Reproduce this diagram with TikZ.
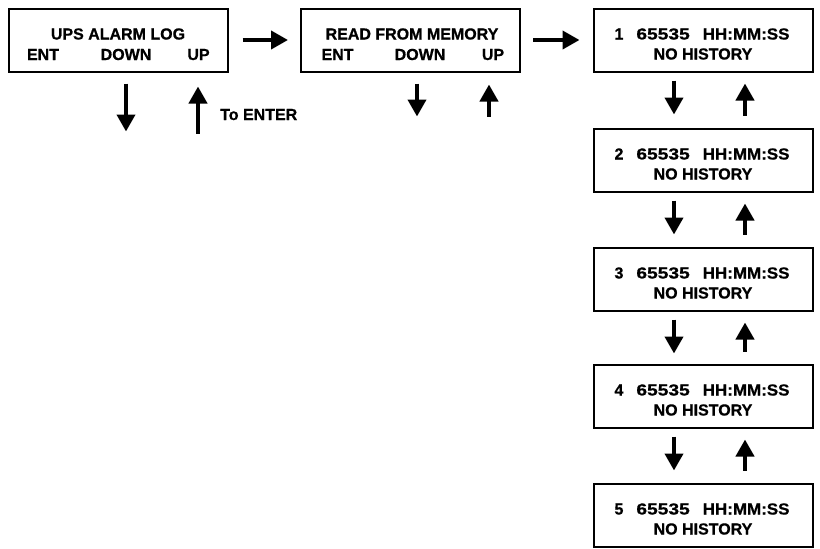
\documentclass[tikz,border=0pt]{standalone}
\usepackage{fontspec}
\setmainfont{Liberation Sans}[BoldFeatures={FakeBold=0.8}]
\usetikzlibrary{arrows.meta,calc}
\begin{document}
\begin{tikzpicture}[x=1pt,y=-1pt,
  box/.style={draw,line width=2pt,minimum width=219pt,minimum height=63pt,inner sep=0pt},
  lbl/.style={font=\fontsize{16}{20}\selectfont\bfseries,inner sep=0pt,anchor=base},
  arr/.style={line width=4pt,-{Triangle[width=18pt,length=17pt]}}]
\useasboundingbox (0,0) rectangle (820,549);
% top row boxes
\node[box] (a) at (118,40) {};
\node[box] (b) at (410.5,40) {};
% column boxes
\node[box] (c1) at (703,40) {};
\node[box] (c2) at (703,160) {};
\node[box] (c3) at (703,279) {};
\node[box] (c4) at (703,396) {};
\node[box] (c5) at (703,515) {};
% texts box a
\node[lbl] (a1) at ($(a.north)+(0,32)$) {UPS ALARM LOG};
\node[lbl] (a2) at ($(a.north)+(-75,52.5)$) {ENT};
\node[lbl] (a3) at ($(a.north)+(8,52.5)$) {DOWN};
\node[lbl] (a4) at ($(a.north)+(80.5,52.5)$) {UP};
% texts box b
\node[lbl] (b1) at ($(b.north)+(1.5,32)$) {READ FROM MEMORY};
\node[lbl] (b2) at ($(b.north)+(-73,52.5)$) {ENT};
\node[lbl] (b3) at ($(b.north)+(9.5,52.5)$) {DOWN};
\node[lbl] (b4) at ($(b.north)+(82.5,52.5)$) {UP};
% texts column
\foreach \i in {1,...,5}{
  \node[lbl] (t\i) at ($(c\i.north)+(-1,32)$) {\i\hspace{13pt}\scalebox{1.2}[1]{65535}\hspace{13pt}\scalebox{1.06}[1]{HH:MM:SS}};
  \node[lbl] (h\i) at ($(c\i.north)+(0,52)$) {NO HISTORY};
}
% horizontal arrows
\draw[arr] ($(a.east)+(14,0)$) -- ($(b.west)+(-12,0)$);
\draw[arr] ($(b.east)+(12,0)$) -- ($(c1.west)+(-13,0)$);
% box a arrows
\draw[arr] ($(a.south)+(8,11)$) -- ++(0,48);
\draw[arr] ($(a.south)+(80,61)$) coordinate (up0) -- ++(0,-47);
\node[lbl,anchor=base west] (ent) at ($(a.south)+(102,47.5)$) {To ENTER};
% box b arrows
\draw[arr] ($(b.south)+(6.5,11)$) -- ++(0,33);
\draw[arr] ($(b.south)+(78.5,44)$) -- ++(0,-32);
% column arrows
\foreach \i/\j in {1/2,2/3,3/4,4/5}{
  \draw[arr] ($(c\i.south)+(-29,8)$) -- ($(c\i.south)+(-29,42)$);
  \draw[arr] ($(c\j.north)+(42,-12)$) -- ($(c\i.south)+(42,11)$);
}
\end{tikzpicture}
\end{document}
